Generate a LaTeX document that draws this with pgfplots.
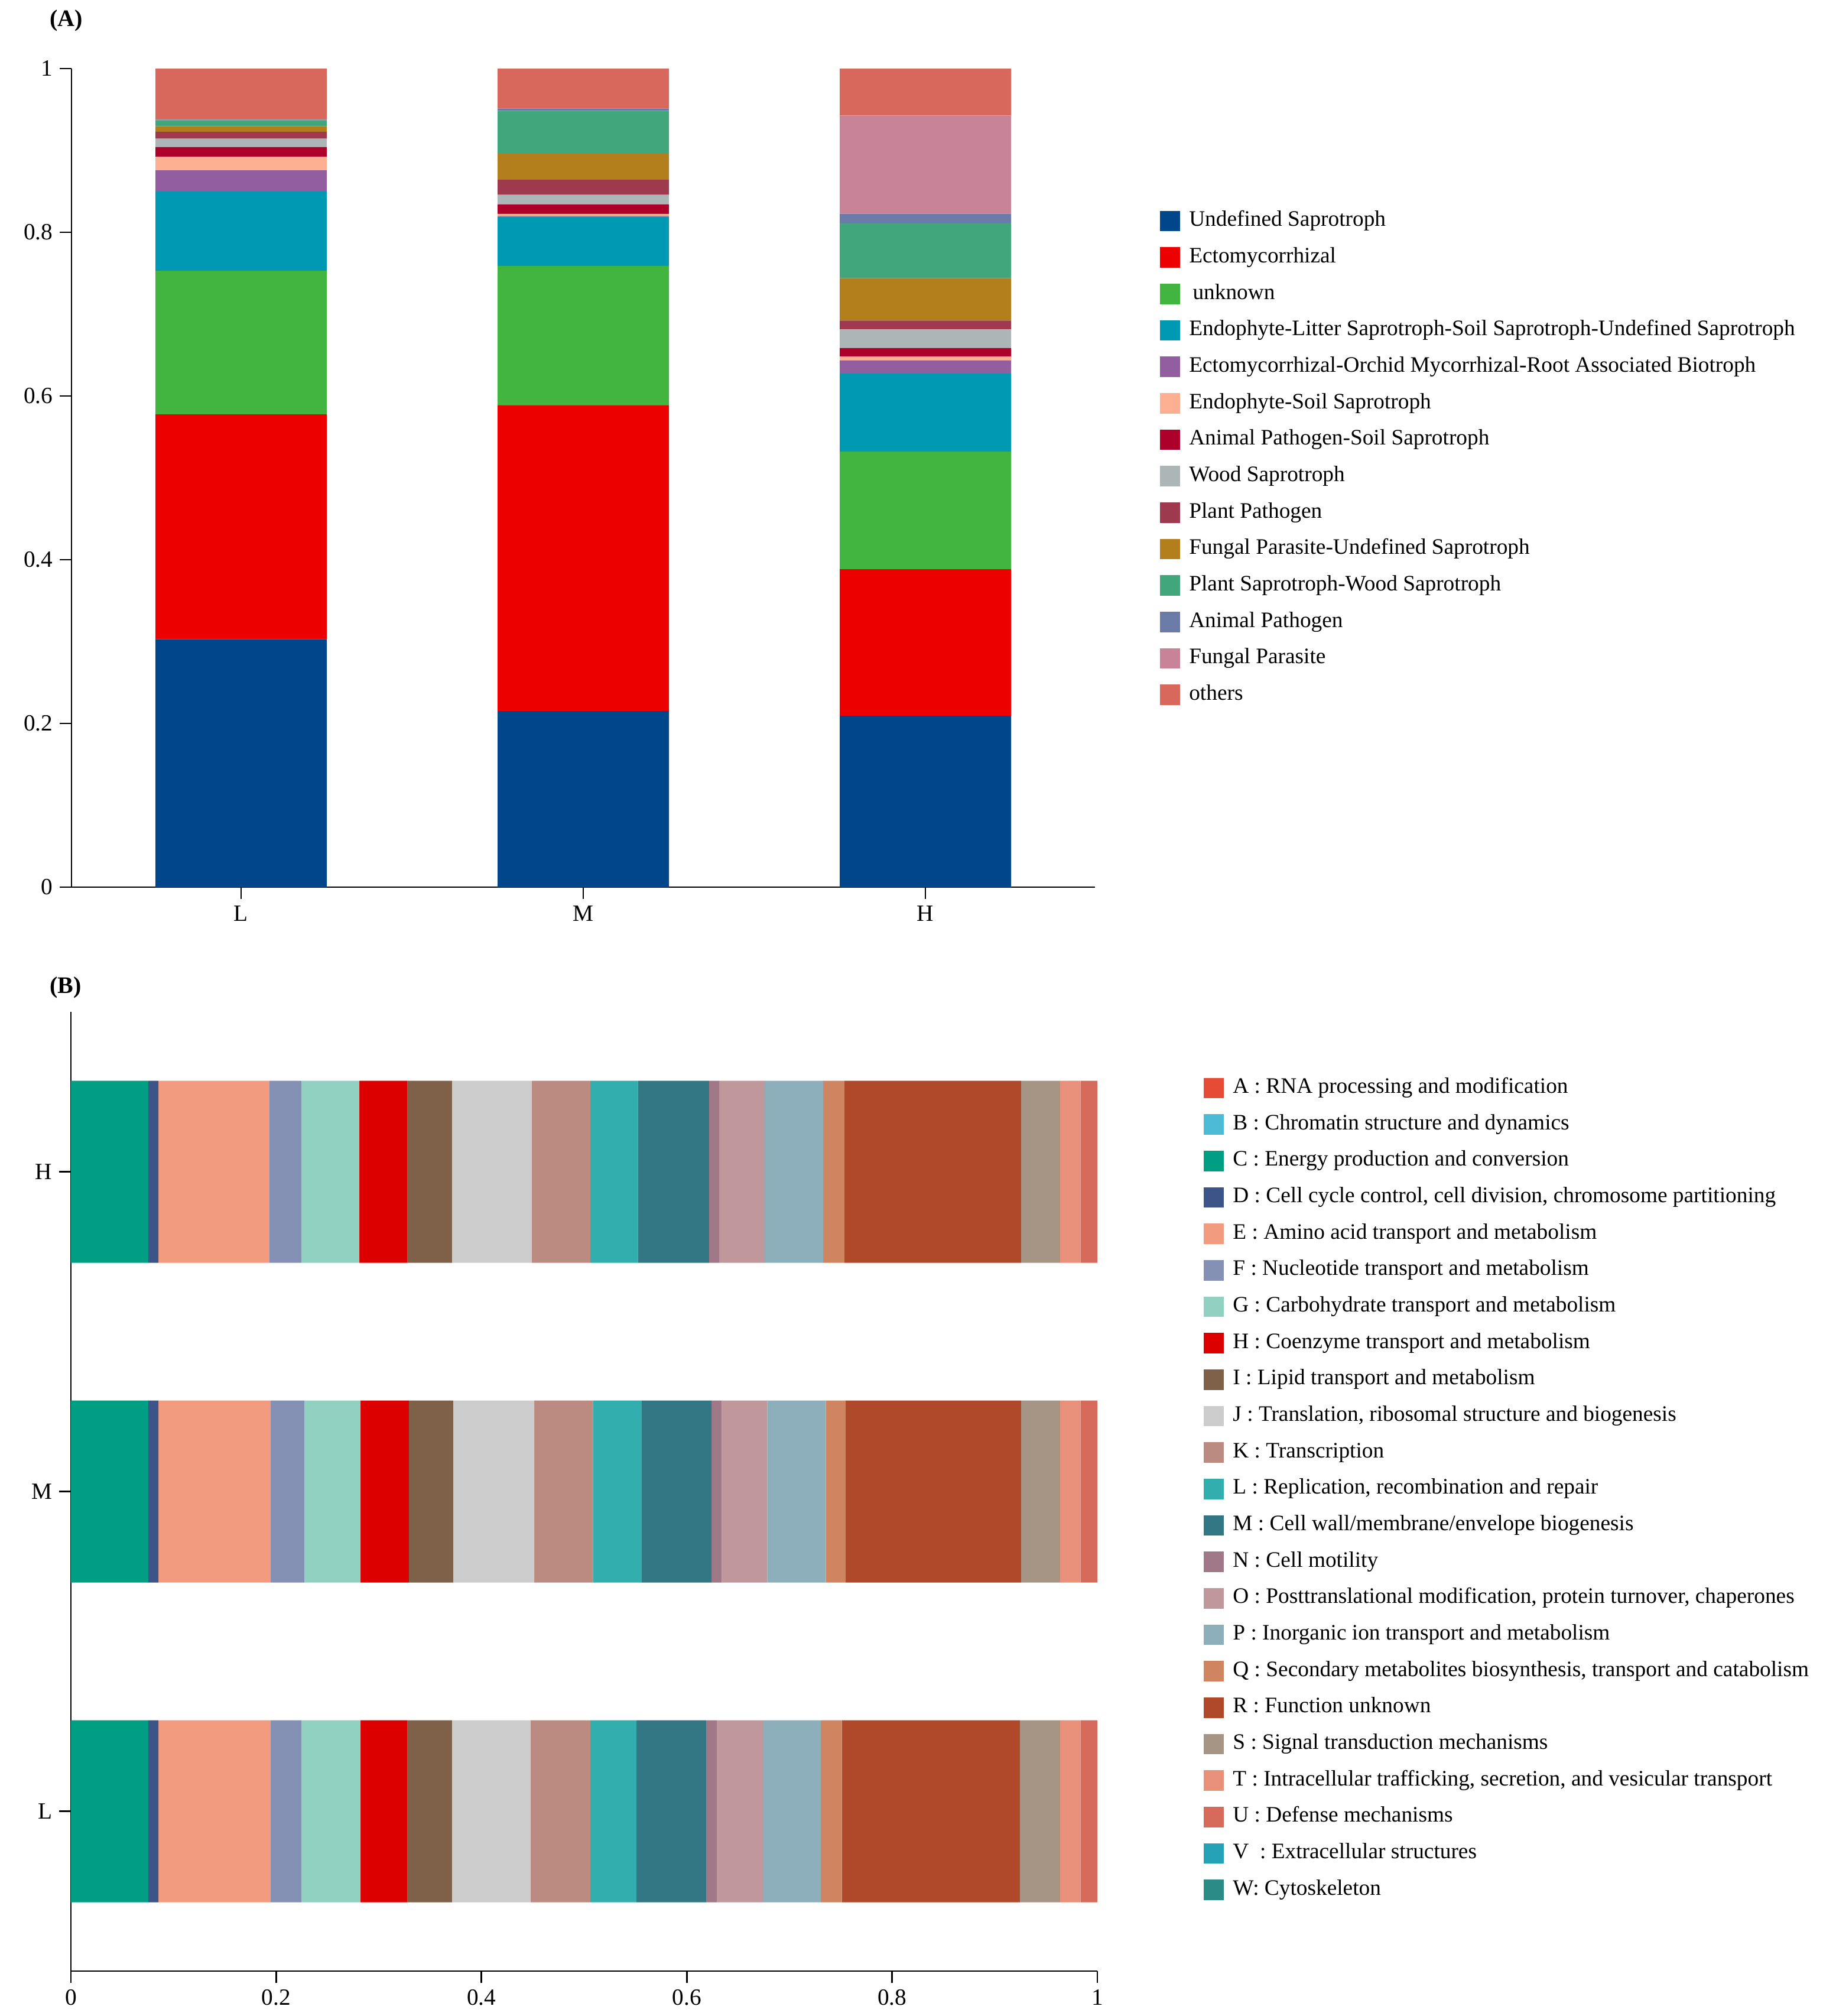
\documentclass[border=0pt]{standalone}
\usepackage{fontspec}
\setmainfont{Liberation Serif}
\usepackage{pgfplots}
\usepackage{pgfplotstable}
\pgfplotsset{compat=1.18}

% panel A colours
\definecolor{cUS}{HTML}{00468B}
\definecolor{cEC}{HTML}{ED0000}
\definecolor{cUN}{HTML}{42B540}
\definecolor{cEL}{HTML}{0099B4}
\definecolor{cEO}{HTML}{925E9F}
\definecolor{cES}{HTML}{FDAF91}
\definecolor{cAPS}{HTML}{AD002A}
\definecolor{cWS}{HTML}{ADB6B6}
\definecolor{cPP}{HTML}{9E394E}
\definecolor{cFPU}{HTML}{B27F1C}
\definecolor{cPSW}{HTML}{41A67C}
\definecolor{cAP}{HTML}{6A7BA8}
\definecolor{cFP}{HTML}{C98399}
\definecolor{cOT}{HTML}{D7685B}
% panel B colours
\definecolor{kA}{HTML}{E64B35}
\definecolor{kB}{HTML}{4DBBD5}
\definecolor{kC}{HTML}{009E83}
\definecolor{kD}{HTML}{3C5488}
\definecolor{kE}{HTML}{F39B7F}
\definecolor{kF}{HTML}{8491B4}
\definecolor{kG}{HTML}{91D1C2}
\definecolor{kH}{HTML}{DC0000}
\definecolor{kI}{HTML}{7E6148}
\definecolor{kJ}{HTML}{CCCCCC}
\definecolor{kK}{HTML}{BB8A80}
\definecolor{kL}{HTML}{33AEAE}
\definecolor{kM}{HTML}{337785}
\definecolor{kN}{HTML}{A07888}
\definecolor{kO}{HTML}{C0979A}
\definecolor{kP}{HTML}{8DAFBC}
\definecolor{kQ}{HTML}{CF8560}
\definecolor{kR}{HTML}{B0482A}
\definecolor{kS}{HTML}{A69485}
\definecolor{kT}{HTML}{E8907A}
\definecolor{kU}{HTML}{D66B5B}
\definecolor{kV}{HTML}{26A2B6}
\definecolor{kW}{HTML}{2A8C85}

% x: 0=L 1=M 2=H
\pgfplotstableread{
x US     EC     UN     EL     EO     ES     APS    WS     PP     FPU    PSW    AP     FP     OT
0 0.303  0.2745 0.1755 0.097  0.0257 0.0167 0.0117 0.0103 0.0085 0.0068 0.007  0.001  0      0.0623
1 0.215  0.374  0.170  0.060  0.001  0.0024 0.0116 0.0118 0.0183 0.0325 0.0518 0.0028 0      0.0488
2 0.2094 0.179  0.1438 0.0951 0.0161 0.0048 0.0104 0.0228 0.0107 0.0519 0.0669 0.012  0.1197 0.0574
}\funguild

% y: 0=L 1=M 2=H
\pgfplotstableread{
y A B C      D      E      F      G      H      I      J      K      L      M      N      O      P      Q      R      S      T      U      V W
0 0 0 0.0754 0.0099 0.1093 0.0302 0.0574 0.0458 0.0432 0.0765 0.0583 0.0450 0.0682 0.0099 0.0456 0.0558 0.0206 0.1734 0.0392 0.0199 0.0164 0 0
1 0 0 0.0754 0.0099 0.1093 0.0327 0.0549 0.0470 0.0432 0.0790 0.0571 0.0475 0.0682 0.0099 0.0443 0.0571 0.0193 0.1709 0.0380 0.0199 0.0164 0 0
2 0 0 0.0754 0.0099 0.1081 0.0314 0.0562 0.0470 0.0432 0.0777 0.0571 0.0463 0.0694 0.0099 0.0443 0.0571 0.0206 0.1721 0.0380 0.0199 0.0164 0 0
}\cog

\pgfplotsset{
  panel/.style={
    scale only axis,
    axis lines=left,
    axis line style={-, line width=0.8pt},
    tick align=outside,
    major tick length=6pt,
    tick style={line width=0.8pt, black},
    ticklabel style={font=\fontsize{11.8}{13}\selectfont},
    /pgf/number format/assume math mode=true,
    legend cell align=left,
    legend style={draw=none, fill=none, inner sep=0pt, row sep=8.1pt,
      column sep=4.5pt, font=\fontsize{11.2}{13}\selectfont,
      nodes={inner sep=0pt, text height=7.6pt, text depth=2.4pt}},
  },
  squarekey/.style={
    legend image code/.code={\fill[##1] (0pt,-5.2pt) rectangle (10.4pt,5.2pt);},
  },
}

\begin{document}
\begin{tikzpicture}
\useasboundingbox (0,0) rectangle (925.5pt,-1023.3pt);

\node[font=\bfseries\fontsize{12}{14}\selectfont] at (33.6pt,-10.5pt) {(A)};
\node[font=\bfseries\fontsize{12}{14}\selectfont] at (33.3pt,-501.3pt) {(B)};

\begin{axis}[
    panel,
    at={(36.3pt,-450.3pt)}, anchor=south west,
    width=519.6pt, height=415.5pt,
    ybar stacked, bar width=87pt,
    squarekey,
    xmin=-0.4957, xmax=2.4957, ymin=0, ymax=1,
    xtick={0,1,2}, xticklabels={L,M,H},
    ytick={0,0.2,0.4,0.6,0.8,1},
    legend style={at={(1.0629,0.8267)}, anchor=north west},
  ]
  \addplot[draw=none, fill=cUS]  table[x=x, y=US]  {\funguild};
  \addlegendentry{Undefined Saprotroph}
  \addplot[draw=none, fill=cEC]  table[x=x, y=EC]  {\funguild};
  \addlegendentry{Ectomycorrhizal}
  \addplot[draw=none, fill=cUN]  table[x=x, y=UN]  {\funguild};
  \addlegendentry{\,unknown}
  \addplot[draw=none, fill=cEL]  table[x=x, y=EL]  {\funguild};
  \addlegendentry{Endophyte-Litter Saprotroph-Soil Saprotroph-Undefined Saprotroph}
  \addplot[draw=none, fill=cEO]  table[x=x, y=EO]  {\funguild};
  \addlegendentry{Ectomycorrhizal-Orchid Mycorrhizal-Root Associated Biotroph}
  \addplot[draw=none, fill=cES]  table[x=x, y=ES]  {\funguild};
  \addlegendentry{Endophyte-Soil Saprotroph}
  \addplot[draw=none, fill=cAPS] table[x=x, y=APS] {\funguild};
  \addlegendentry{Animal Pathogen-Soil Saprotroph}
  \addplot[draw=none, fill=cWS]  table[x=x, y=WS]  {\funguild};
  \addlegendentry{Wood Saprotroph}
  \addplot[draw=none, fill=cPP]  table[x=x, y=PP]  {\funguild};
  \addlegendentry{Plant Pathogen}
  \addplot[draw=none, fill=cFPU] table[x=x, y=FPU] {\funguild};
  \addlegendentry{Fungal Parasite-Undefined Saprotroph}
  \addplot[draw=none, fill=cPSW] table[x=x, y=PSW] {\funguild};
  \addlegendentry{Plant Saprotroph-Wood Saprotroph}
  \addplot[draw=none, fill=cAP]  table[x=x, y=AP]  {\funguild};
  \addlegendentry{Animal Pathogen}
  \addplot[draw=none, fill=cFP]  table[x=x, y=FP]  {\funguild};
  \addlegendentry{Fungal Parasite}
  \addplot[draw=none, fill=cOT]  table[x=x, y=OT]  {\funguild};
  \addlegendentry{others}
\end{axis}

\begin{axis}[
    panel,
    at={(36pt,-1000.5pt)}, anchor=south west,
    width=521.1pt, height=486.9pt,
    xbar stacked, bar width=92.4pt,
    squarekey,
    xmin=0, xmax=1, ymin=-0.5, ymax=2.5,
    ytick={0,1,2}, yticklabels={L,M,H},
    xtick={0,0.2,0.4,0.6,0.8,1},
    legend style={at={(1.1031,0.9317)}, anchor=north west},
  ]
  \addplot[draw=none, fill=kA] table[x=A, y=y] {\cog};
  \addlegendentry{A : RNA processing and modification}
  \addplot[draw=none, fill=kB] table[x=B, y=y] {\cog};
  \addlegendentry{B : Chromatin structure and dynamics}
  \addplot[draw=none, fill=kC] table[x=C, y=y] {\cog};
  \addlegendentry{C : Energy production and conversion}
  \addplot[draw=none, fill=kD] table[x=D, y=y] {\cog};
  \addlegendentry{D : Cell cycle control, cell division, chromosome partitioning}
  \addplot[draw=none, fill=kE] table[x=E, y=y] {\cog};
  \addlegendentry{E : Amino acid transport and metabolism}
  \addplot[draw=none, fill=kF] table[x=F, y=y] {\cog};
  \addlegendentry{F : Nucleotide transport and metabolism}
  \addplot[draw=none, fill=kG] table[x=G, y=y] {\cog};
  \addlegendentry{G : Carbohydrate transport and metabolism}
  \addplot[draw=none, fill=kH] table[x=H, y=y] {\cog};
  \addlegendentry{H : Coenzyme transport and metabolism}
  \addplot[draw=none, fill=kI] table[x=I, y=y] {\cog};
  \addlegendentry{I : Lipid transport and metabolism}
  \addplot[draw=none, fill=kJ] table[x=J, y=y] {\cog};
  \addlegendentry{J : Translation, ribosomal structure and biogenesis}
  \addplot[draw=none, fill=kK] table[x=K, y=y] {\cog};
  \addlegendentry{K : Transcription}
  \addplot[draw=none, fill=kL] table[x=L, y=y] {\cog};
  \addlegendentry{L : Replication, recombination and repair}
  \addplot[draw=none, fill=kM] table[x=M, y=y] {\cog};
  \addlegendentry{M : Cell wall/membrane/envelope biogenesis}
  \addplot[draw=none, fill=kN] table[x=N, y=y] {\cog};
  \addlegendentry{N : Cell motility}
  \addplot[draw=none, fill=kO] table[x=O, y=y] {\cog};
  \addlegendentry{O : Posttranslational modification, protein turnover, chaperones}
  \addplot[draw=none, fill=kP] table[x=P, y=y] {\cog};
  \addlegendentry{P : Inorganic ion transport and metabolism}
  \addplot[draw=none, fill=kQ] table[x=Q, y=y] {\cog};
  \addlegendentry{Q : Secondary metabolites biosynthesis, transport and catabolism}
  \addplot[draw=none, fill=kR] table[x=R, y=y] {\cog};
  \addlegendentry{R : Function unknown}
  \addplot[draw=none, fill=kS] table[x=S, y=y] {\cog};
  \addlegendentry{S : Signal transduction mechanisms}
  \addplot[draw=none, fill=kT] table[x=T, y=y] {\cog};
  \addlegendentry{T : Intracellular trafficking, secretion, and vesicular transport}
  \addplot[draw=none, fill=kU] table[x=U, y=y] {\cog};
  \addlegendentry{U : Defense mechanisms}
  \addplot[draw=none, fill=kV] table[x=V, y=y] {\cog};
  \addlegendentry{V\ \ : Extracellular structures}
  \addplot[draw=none, fill=kW] table[x=W, y=y] {\cog};
  \addlegendentry{W: Cytoskeleton}
\end{axis}
\end{tikzpicture}
\end{document}
